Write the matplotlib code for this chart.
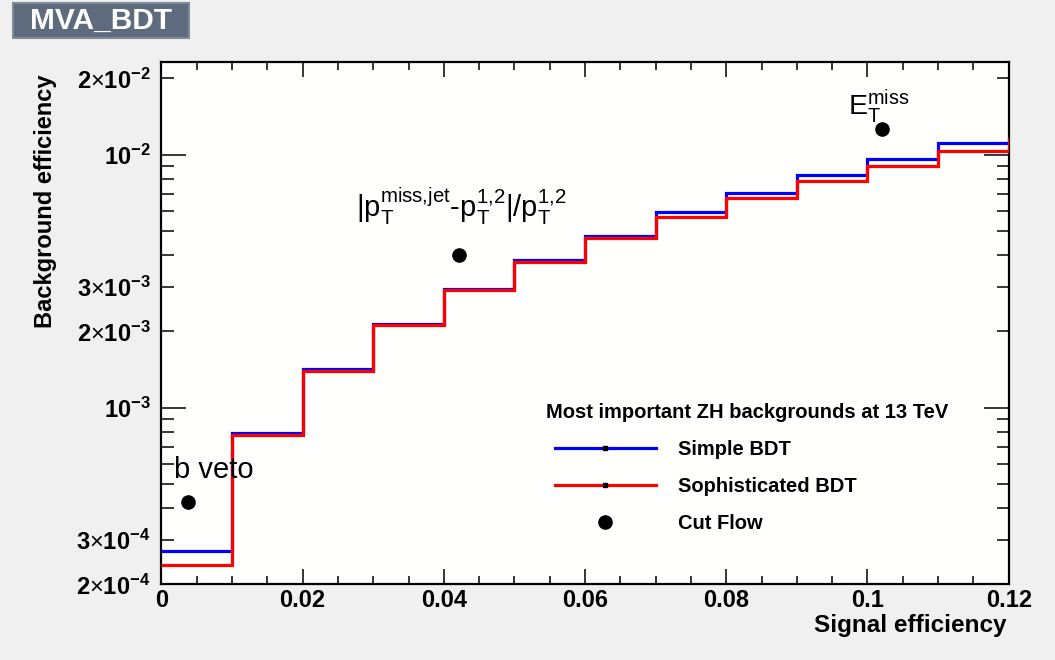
import numpy as np
import matplotlib
matplotlib.use("Agg")
import matplotlib.pyplot as plt
from matplotlib.lines import Line2D
from matplotlib.patches import Rectangle
from matplotlib.ticker import FixedLocator, FuncFormatter

# ---------------- data ----------------
bin_edges = [0.0, 0.01, 0.02, 0.03, 0.04, 0.05, 0.06, 0.07, 0.08, 0.09, 0.10, 0.11, 0.12]
red_edges = [0.0, 0.01, 0.02, 0.03, 0.04, 0.05, 0.06, 0.07, 0.08, 0.09, 0.10, 0.11, 0.12, 0.13]
simple_bdt = [2.72e-4, 7.96e-4, 1.419e-3, 2.14e-3, 2.94e-3, 3.84e-3, 4.78e-3,
              5.91e-3, 7.06e-3, 8.31e-3, 9.64e-3, 1.109e-2]
soph_bdt = [2.39e-4, 7.77e-4, 1.393e-3, 2.12e-3, 2.92e-3, 3.78e-3, 4.69e-3,
            5.66e-3, 6.75e-3, 7.85e-3, 8.99e-3, 1.031e-2, 1.157e-2]
cut_labels = ["b veto",
              r"$|\mathrm{p}_{\mathrm{T}}^{\mathrm{miss{,}jet}}$-$\mathrm{p}_{\mathrm{T}}^{\mathrm{1{,}2}}|/\mathrm{p}_{\mathrm{T}}^{\mathrm{1{,}2}}$",
              r"$\mathrm{E}_{\mathrm{T}}^{\mathrm{miss}}$"]
cut_sig = [0.00381, 0.0422, 0.1020]
cut_bkg = [4.23e-4, 4.0e-3, 1.26e-2]
x_ticks = [0.0, 0.02, 0.04, 0.06, 0.08, 0.10, 0.12]
x_ticklabels = ["0", "0.02", "0.04", "0.06", "0.08", "0.1", "0.12"]
y_labeled = {2e-4: (2, -4), 3e-4: (3, -4), 1e-3: (1, -3), 2e-3: (2, -3),
             3e-3: (3, -3), 1e-2: (1, -2), 2e-2: (2, -2)}
legend_title = "Most important ZH backgrounds at 13 TeV"
legend_labels = ["Simple BDT", "Sophisticated BDT", "Cut Flow"]

# ---------------- style ----------------
plt.rcParams['font.family'] = ['Liberation Sans', 'DejaVu Sans']
plt.rcParams['mathtext.fontset'] = 'custom'
plt.rcParams['mathtext.rm'] = 'Liberation Sans'
plt.rcParams['mathtext.it'] = 'Liberation Sans:italic'
plt.rcParams['mathtext.bf'] = 'Liberation Sans:bold'

W, H = 1055, 660
fig = plt.figure(figsize=(W / 100, H / 100), dpi=100, facecolor='#f0f0f0')
L, R, T, B = 161.4, 1008.7, 61.7, 584.4
ax = fig.add_axes([L / W, 1 - B / H, (R - L) / W, (B - T) / H])
ax.set_facecolor('#fffffd')

ax.stairs(simple_bdt, bin_edges, baseline=None, color='#0000ff', lw=2.3, zorder=3)
ax.stairs(soph_bdt, red_edges, baseline=None, color='#ff0000', lw=2.3, zorder=4)
ax.plot(cut_sig, cut_bkg, 'o', color='black', ms=9.5, ls='none', zorder=5)

offsets = [(-14, 24, 'left', 21), (2, 38, 'center', 21), (-34, 15, 'left', 20.5)]
for lab, xs, ys, (dx, dy, ha, fs) in zip(cut_labels, cut_sig, cut_bkg, offsets):
    ax.annotate(lab, xy=(xs, ys), xytext=(dx, dy), textcoords='offset pixels',
                ha=ha, va='baseline', fontsize=fs, color='black', zorder=6)

ax.set_yscale('log')
ax.set_xlim(0, 0.12)
ax.set_ylim(2e-4, 2.33e-2)

ax.xaxis.set_major_locator(FixedLocator(x_ticks))
ax.set_xticklabels(x_ticklabels)
ax.xaxis.set_minor_locator(FixedLocator(np.arange(0, 0.1201, 0.005)))

ax.yaxis.set_major_locator(FixedLocator([1e-3, 1e-2]))
minors = [m * 10.0 ** e for e in (-4, -3, -2) for m in range(2, 10) if m * 10.0 ** e <= 2.4e-2]
ax.yaxis.set_minor_locator(FixedLocator(minors))


def ylab(v, pos):
    for key, (m, e) in y_labeled.items():
        if abs(v - key) / key < 1e-6:
            if m == 1:
                return r"$\mathbf{10^{%d}}$" % e
            return r"$\mathbf{%d}{\times}\mathbf{10^{%d}}$" % (m, e)
    return ""


ax.yaxis.set_major_formatter(FuncFormatter(ylab))
ax.yaxis.set_minor_formatter(FuncFormatter(ylab))

ax.tick_params(which='both', direction='in', top=True, right=True, color='black')
ax.tick_params(axis='x', which='major', length=11, width=1.1, pad=3, labelsize=17)
ax.tick_params(axis='x', which='minor', length=5.5, width=1.1)
ax.tick_params(axis='y', which='major', length=18, width=1.1, pad=8, labelsize=17)
ax.tick_params(axis='y', which='minor', length=9, width=1.1, pad=8, labelsize=17)
for lbl in ax.get_xticklabels():
    lbl.set_fontweight('bold')
for sp in ax.spines.values():
    sp.set_linewidth(1.6)
    sp.set_color('black')

# axis titles
fig.text(1007 / W, 1 - 632 / H, "Signal efficiency", ha='right', va='baseline',
         fontsize=17.5, fontweight='bold')
fig.text(46 / W, 1 - 75 / H, "Background efficiency", ha='center', va='top',
         rotation=90, fontsize=17, fontweight='bold')

# title box
fig.patches.append(Rectangle((13 / W, 1 - 38 / H), 176 / W, 35 / H, transform=fig.transFigure,
                             facecolor='#5d6b7d', edgecolor='#7d8b9d', lw=1.5, zorder=1))
fig.text(101 / W, 1 - 21 / H, "MVA_BDT", ha='center', va='center', color='white',
         fontsize=21.5, fontweight='bold')

# legend
fig.text(747.5 / W, 1 - 412 / H, legend_title, ha='center', va='center',
         fontsize=14.5, fontweight='bold')
handles = [Line2D([], [], color='#0000ff', lw=2.3, marker='s', ms=3.5,
                  mfc='black', mec='black'),
           Line2D([], [], color='#ff0000', lw=2.3, marker='s', ms=3.5,
                  mfc='black', mec='black'),
           Line2D([], [], color='black', marker='o', ms=9.5, ls='none')]
leg = ax.legend(handles, legend_labels,
                loc='upper left', bbox_to_anchor=(555 / W, 1 - 440 / H),
                bbox_transform=fig.transFigure, frameon=False, numpoints=1,
                handlelength=5.0, handletextpad=1.1, labelspacing=0.9, borderpad=0,
                borderaxespad=0, prop={'weight': 'bold', 'size': 14.5})

fig.savefig('out.png', dpi=100, facecolor=fig.get_facecolor())
